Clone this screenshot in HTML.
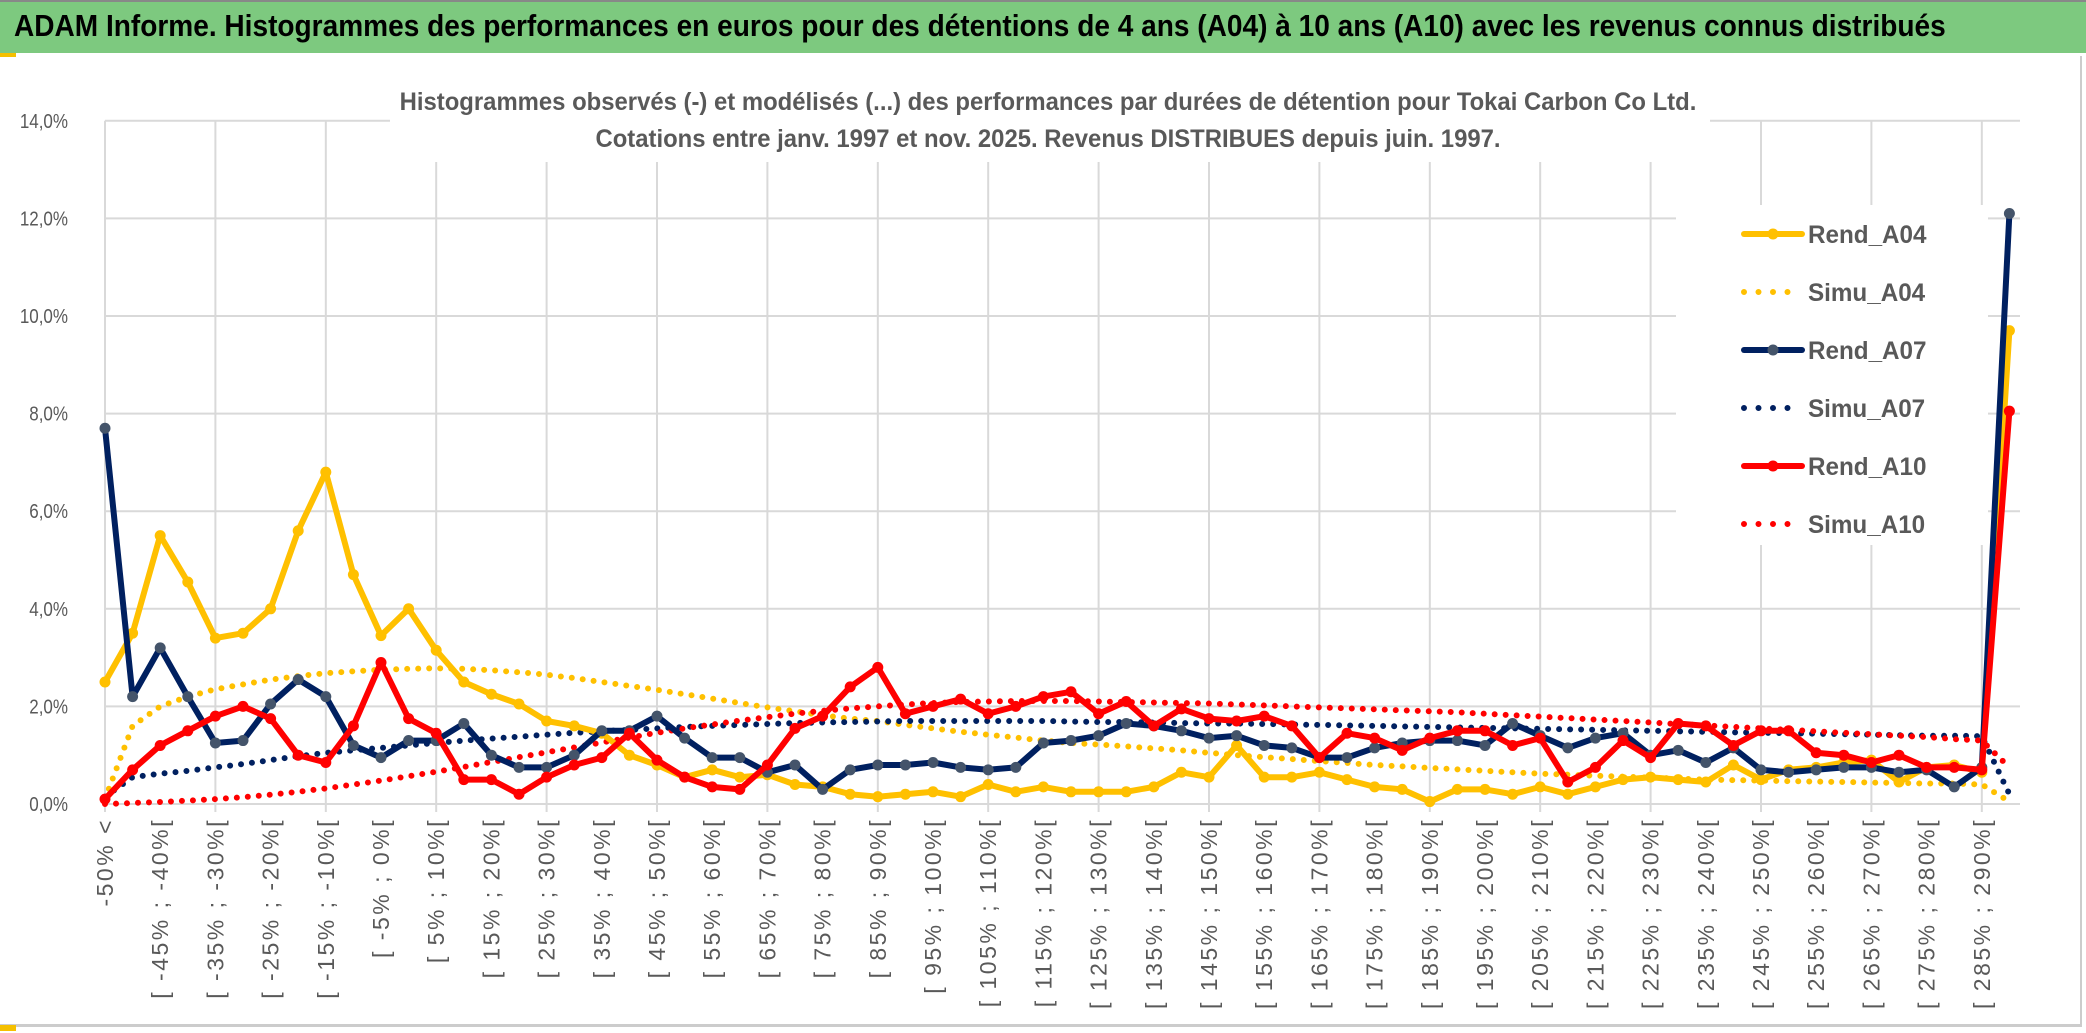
<!DOCTYPE html>
<html><head><meta charset="utf-8">
<style>
html,body{margin:0;padding:0;background:#fff;}
body{width:2086px;height:1033px;position:relative;overflow:hidden;font-family:"Liberation Sans",sans-serif;}
#banner{position:absolute;left:0;top:0;width:2086px;height:53px;background:#7dc97f;border-top:2px solid #888;box-sizing:border-box;}
#banner span{position:absolute;left:14px;top:6px;font-weight:bold;font-size:31px;color:#000;white-space:nowrap;transform-origin:0 0;transform:scaleX(0.905);}
#frame{position:absolute;left:0;top:56px;width:2080px;height:968px;border-right:2px solid #ccc;border-bottom:3px solid #ccc;}
svg{position:absolute;left:0;top:0;}
</style></head>
<body>
<div id="banner"><span>ADAM Informe. Histogrammes des performances en euros pour des détentions de 4 ans (A04) à 10 ans (A10) avec les revenus connus distribués</span></div>
<div id="frame"></div>
<div style="position:absolute;left:0;top:53px;width:16px;height:4px;background:#f5c000"></div>
<div style="position:absolute;left:0;top:1025px;width:16px;height:6px;background:#f5c000"></div>
<svg id="chart" width="2086" height="1033"></svg>
<script>
const rendA04=[2.5,3.5,5.5,4.55,3.4,3.5,4.0,5.6,6.8,4.7,3.45,4.0,3.15,2.5,2.25,2.05,1.7,1.6,1.45,1.0,0.8,0.55,0.7,0.55,0.6,0.4,0.35,0.2,0.15,0.2,0.25,0.15,0.4,0.25,0.35,0.25,0.25,0.25,0.35,0.65,0.55,1.2,0.55,0.55,0.65,0.5,0.35,0.3,0.05,0.3,0.3,0.2,0.35,0.2,0.35,0.5,0.55,0.5,0.45,0.8,0.5,0.7,0.75,0.85,0.9,0.45,0.75,0.8,0.65,9.7];
const rendA07=[7.7,2.2,3.2,2.2,1.25,1.3,2.05,2.55,2.2,1.2,0.95,1.3,1.3,1.65,1.0,0.75,0.75,1.0,1.5,1.5,1.8,1.35,0.95,0.95,0.65,0.8,0.3,0.7,0.8,0.8,0.85,0.75,0.7,0.75,1.25,1.3,1.4,1.65,1.6,1.5,1.35,1.4,1.2,1.15,0.95,0.95,1.15,1.25,1.3,1.3,1.2,1.65,1.4,1.15,1.35,1.45,1.0,1.1,0.85,1.15,0.7,0.65,0.7,0.75,0.75,0.65,0.7,0.35,0.75,12.1];
const rendA10=[0.1,0.7,1.2,1.5,1.8,2.0,1.75,1.0,0.85,1.6,2.9,1.75,1.45,0.5,0.5,0.2,0.55,0.8,0.95,1.45,0.9,0.55,0.35,0.3,0.8,1.55,1.8,2.4,2.8,1.85,2.0,2.15,1.85,2.0,2.2,2.3,1.85,2.1,1.6,1.95,1.75,1.7,1.8,1.6,0.95,1.45,1.35,1.1,1.35,1.5,1.5,1.2,1.35,0.45,0.75,1.3,0.95,1.65,1.6,1.2,1.5,1.5,1.05,1.0,0.85,1.0,0.75,0.75,0.7,8.05];
const simuA04=[0.1,1.6,2.0,2.2,2.35,2.45,2.55,2.62,2.68,2.72,2.75,2.77,2.78,2.77,2.74,2.70,2.65,2.58,2.50,2.42,2.34,2.25,2.16,2.07,1.98,1.90,1.82,1.75,1.70,1.62,1.55,1.48,1.42,1.36,1.30,1.25,1.22,1.18,1.14,1.10,1.05,1.00,0.96,0.92,0.88,0.84,0.80,0.77,0.74,0.71,0.68,0.65,0.62,0.60,0.58,0.56,0.54,0.52,0.50,0.49,0.48,0.47,0.46,0.45,0.44,0.43,0.42,0.42,0.40,0.05];
const simuA07=[0.15,0.55,0.62,0.68,0.75,0.82,0.90,0.98,1.05,1.10,1.15,1.20,1.25,1.30,1.34,1.38,1.42,1.46,1.49,1.52,1.55,1.58,1.60,1.62,1.64,1.66,1.67,1.68,1.69,1.70,1.70,1.70,1.70,1.70,1.70,1.69,1.68,1.68,1.67,1.66,1.65,1.65,1.64,1.63,1.62,1.61,1.60,1.59,1.58,1.57,1.56,1.55,1.54,1.53,1.52,1.51,1.50,1.49,1.48,1.47,1.46,1.45,1.44,1.43,1.42,1.41,1.40,1.40,1.39,0.2];
const simuA10=[0.0,0.02,0.04,0.07,0.10,0.14,0.19,0.25,0.32,0.40,0.48,0.57,0.66,0.76,0.86,0.96,1.06,1.16,1.26,1.36,1.46,1.55,1.63,1.71,1.78,1.85,1.91,1.96,2.0,2.04,2.07,2.09,2.10,2.11,2.11,2.11,2.10,2.09,2.08,2.07,2.06,2.04,2.02,2.0,1.98,1.96,1.94,1.92,1.90,1.88,1.85,1.82,1.79,1.76,1.73,1.70,1.67,1.64,1.61,1.58,1.55,1.52,1.49,1.46,1.43,1.40,1.37,1.33,1.30,0.75];
const yTicks=[0,2,4,6,8,10,12,14];
const categories=["-50% <"];
for(let k=1;k<70;k++){const a=-55+5*k;categories.push("[ "+a+"% ; "+(a+5)+"%[");}

const NS="http://www.w3.org/2000/svg";
const svg=document.getElementById('chart');
const X0=105, STEP=27.6, Y0=804, PER=48.8;
const xs=i=>X0+i*STEP;
const ys=v=>Y0-v*PER;
function mk(tag,attrs,parent){const e=document.createElementNS(NS,tag);for(const k in attrs)e.setAttribute(k,attrs[k]);(parent||svg).appendChild(e);return e;}

const grid=mk('g',{});


yTicks.forEach(t=>{
  const l=mk('line',{x1:X0,x2:2020,y1:ys(t),y2:ys(t),stroke:'#d9d9d9','stroke-width':2},grid);
  
  
  const tx=mk('text',{x:68,y:ys(t)+7,'text-anchor':'end','font-size':20,fill:'#595959',transform:'translate(68,0) scale(0.85,1) translate(-68,0)'});
  tx.textContent=t.toFixed(1).replace('.',',')+'%';
  
  
});
for(let i=0;i<categories.length;i+=4){
  const l=mk('line',{x1:xs(i),x2:xs(i),y1:ys(14),y2:Y0+8,stroke:'#d9d9d9','stroke-width':2},grid);
  
  
}
categories.forEach((c,i)=>{
  if(i%2) return;
  const tx=mk('text',{transform:`translate(${xs(i)+8},${Y0+14}) rotate(-90)`,'text-anchor':'end','font-size':23,'letter-spacing':'2.5',fill:'#595959'});
  tx.textContent=c;
  
  
});
const tb=mk('rect',{x:390,y:78,width:1320,height:84,fill:'#fff'});


const t1=mk('text',{x:1048,y:110,'text-anchor':'middle','font-size':25,fill:'#595959','font-weight':'bold',transform:'translate(1048,0) scale(0.955,1) translate(-1048,0)'});
t1.textContent="Histogrammes observés (-) et modélisés (...) des performances par durées de détention pour Tokai Carbon Co Ltd.";


const t2=mk('text',{x:1048,y:147,'text-anchor':'middle','font-size':25,fill:'#595959','font-weight':'bold',transform:'translate(1048,0) scale(0.955,1) translate(-1048,0)'});
t2.textContent="Cotations entre janv. 1997 et nov. 2025. Revenus DISTRIBUES depuis juin. 1997.";


const lb=mk('rect',{x:1676,y:205,width:312,height:340,fill:'#fff'});



function pts(arr){return arr.map((v,i)=>xs(i).toFixed(1)+','+ys(v).toFixed(1)).join(' ');}
function simu(arr,color,name){
  const p=mk('polyline',{points:pts(arr),fill:'none',stroke:color,'stroke-width':6,'stroke-linecap':'round','stroke-dasharray':'0 11'});
  
  
}
function rend(arr,color,mcol,name){
  const g=mk('g',{});
  
  
  mk('polyline',{points:pts(arr),fill:'none',stroke:color,'stroke-width':6,'stroke-linejoin':'round'},g);
  arr.forEach((v,i)=>{
    const c=mk('circle',{cx:xs(i),cy:ys(v),r:5.5,fill:mcol},g);
    
    
  });
}
simu(simuA04,'#ffc000','simu-a04-line');
simu(simuA07,'#002060','simu-a07-line');
simu(simuA10,'#ff0000','simu-a10-line');
rend(rendA04,'#ffc000','#ffc000','rend-a04-line');
rend(rendA07,'#002060','#44546a','rend-a07-line');
rend(rendA10,'#ff0000','#ff0000','rend-a10-line');

const legend=[['Rend_A04','#ffc000','#ffc000',false],['Simu_A04','#ffc000',null,true],['Rend_A07','#002060','#44546a',false],['Simu_A07','#002060',null,true],['Rend_A10','#ff0000','#ff0000',false],['Simu_A10','#ff0000',null,true]];
const legY=[234,292,350,408,466,524];
legend.forEach((L,k)=>{
  const g=mk('g',{});
  
  
  const y=legY[k];
  if(L[3]){
    mk('line',{x1:1744,x2:1800,y1:y,y2:y,stroke:L[1],'stroke-width':6,'stroke-linecap':'round','stroke-dasharray':'0 14.5'},g);
  } else {
    mk('line',{x1:1744,x2:1802,y1:y,y2:y,stroke:L[1],'stroke-width':6,'stroke-linecap':'round'},g);
    mk('circle',{cx:1773,cy:y,r:5.5,fill:L[2]},g);
  }
  const t=mk('text',{x:1808,y:y+9,'font-size':25,fill:'#595959','font-weight':'bold',transform:`translate(1808,0) scale(0.97,1) translate(-1808,0)`},g);
  t.textContent=L[0];
});
</script>
</body></html>
